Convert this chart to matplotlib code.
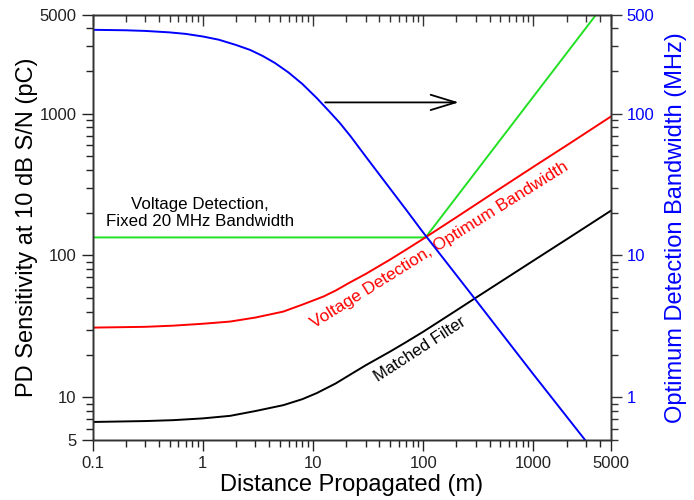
import matplotlib
matplotlib.use("Agg")
import matplotlib.pyplot as plt
from matplotlib.ticker import LogLocator, FixedLocator, NullFormatter, FixedFormatter

plt.rcParams['font.family'] = ['Liberation Sans', 'DejaVu Sans']

# ---- data ----
dist_blue = [0.1, 0.2, 0.3, 0.5, 0.7, 1, 1.4, 2, 2.7, 3.5, 4.5, 6, 8, 10.8, 14, 17.5,
             22, 30, 45, 70, 100, 300, 1000, 3000]
bandwidth = [390, 387, 383, 374, 365, 350, 332, 305, 281, 255, 228, 195, 162, 129, 104, 86,
             69, 50, 33, 21, 14.5, 4.85, 1.45, 0.49]

dist_red = [0.1, 0.3, 0.54, 1, 1.77, 3, 5.37, 8, 12.4, 16, 21.6, 30, 50, 70, 100,
            200, 500, 1000, 2000, 5000]
volt_opt = [31, 31.4, 32, 33, 34.2, 36.5, 40.2, 45, 51.3, 56.5, 64.5, 74, 93.5, 110, 131,
            186, 297, 422, 597, 950]

dist_black = [0.1, 0.3, 0.54, 1, 1.77, 3, 5.37, 8, 10.8, 16, 21.6, 30, 50, 70, 100,
              200, 308, 500, 1000, 2000, 5000]
matched = [6.7, 6.8, 6.9, 7.1, 7.4, 8.0, 8.8, 9.7, 10.7, 12.5, 14.4, 16.8, 21, 24.5, 29,
           41, 51, 65, 92, 130, 206]

dist_green = [0.1, 105, 3710]
volt_fixed = [134, 134, 5000]

x_ticks = [0.1, 1, 10, 100, 1000, 5000]
x_ticklabels = ['0.1', '1', '10', '100', '1000', '5000']
yl_ticks = [5, 10, 100, 1000, 5000]
yl_ticklabels = ['5', '10', '100', '1000', '5000']
yr_ticks = [1, 10, 100, 500]
yr_ticklabels = ['1', '10', '100', '500']

fig = plt.figure(figsize=(6.94, 5.0), dpi=100)
ax = fig.add_axes([0.1333, 0.12, 0.7464, 0.851])
ax2 = ax.twinx()
ax3 = ax.twiny()

lw = 1.4
ax.plot(dist_green, volt_fixed, color='#22e022', lw=lw)
ax.plot(dist_red, volt_opt, color='#ff0000', lw=lw)
ax.plot(dist_black, matched, color='black', lw=lw)
ax2.plot(dist_blue, bandwidth, color='#0000ff', lw=lw)

for a in (ax, ax3):
    a.set_xscale('log')
    a.set_xlim(0.1, 5000)
    a.xaxis.set_major_locator(FixedLocator(x_ticks))
    a.xaxis.set_minor_locator(LogLocator(base=10, subs=[2, 3, 4, 5, 6, 7, 8, 9], numticks=20))
    a.xaxis.set_minor_formatter(NullFormatter())
ax.xaxis.set_major_formatter(FixedFormatter(x_ticklabels))
ax3.xaxis.set_major_formatter(NullFormatter())

ax.set_yscale('log')
ax2.set_yscale('log')
ax.set_ylim(5, 5000)
ax2.set_ylim(0.5, 500)

ax.yaxis.set_major_locator(FixedLocator(yl_ticks))
ax.yaxis.set_major_formatter(FixedFormatter(yl_ticklabels))
ax.yaxis.set_minor_locator(LogLocator(base=10, subs=[2, 3, 4, 5, 6, 7, 8, 9], numticks=20))
ax.yaxis.set_minor_formatter(NullFormatter())
ax2.yaxis.set_major_locator(FixedLocator(yr_ticks))
ax2.yaxis.set_major_formatter(FixedFormatter(yr_ticklabels))
ax2.yaxis.set_minor_locator(LogLocator(base=10, subs=[2, 3, 4, 5, 6, 7, 8, 9], numticks=20))
ax2.yaxis.set_minor_formatter(NullFormatter())

for a in (ax, ax2, ax3):
    for s in a.spines.values():
        s.set_color('#333333')
        s.set_linewidth(1.0)

ax.tick_params(axis='x', which='both', direction='out', labelsize=12, colors='#222222')
ax.tick_params(axis='x', which='major', length=8, width=1.0)
ax.tick_params(axis='x', which='minor', length=5, width=1.0)
ax3.tick_params(axis='x', which='both', direction='in', color='#333333', labeltop=False)
ax3.tick_params(axis='x', which='major', length=8, width=1.0)
ax3.tick_params(axis='x', which='minor', length=5, width=1.0)
ax.tick_params(axis='y', which='both', direction='out', labelsize=12, colors='#222222')
ax.tick_params(axis='y', which='major', length=8, width=1.0)
ax.tick_params(axis='y', which='minor', length=5, width=1.0)
ax2.tick_params(axis='y', which='both', direction='out', labelsize=12, labelcolor='#0000ff', color='#333333')
ax2.tick_params(axis='y', which='major', length=8, width=1.0)
ax2.tick_params(axis='y', which='minor', length=5, width=1.0)

ax.set_xlabel('Distance Propagated (m)', fontsize=17, labelpad=2)
ax.set_ylabel('PD Sensitivity at 10 dB S/N (pC)', fontsize=17, labelpad=1)
ax2.set_ylabel('Optimum Detection Bandwidth (MHz)', fontsize=17, color='#0000ff', labelpad=8)

ax.text(0.94, 200, 'Voltage Detection,\nFixed 20 MHz Bandwidth', fontsize=12.2,
        ha='center', va='center', multialignment='center', linespacing=1.2)
ax.text(141, 119, 'Voltage Detection, Optimum Bandwidth', fontsize=12.4, color='#ff0000',
        ha='center', va='center', rotation=32, rotation_mode='anchor')
ax.text(93, 21.6, 'Matched Filter', fontsize=12, color='black',
        ha='center', va='center', rotation=33, rotation_mode='anchor')

ax.annotate('', xy=(210, 1200), xytext=(12.9, 1200),
            arrowprops=dict(arrowstyle='->, head_length=1.8, head_width=0.55',
                            lw=1.3, color='black', shrinkA=0, shrinkB=0, mutation_scale=10))

fig.savefig('out.png', dpi=100)
